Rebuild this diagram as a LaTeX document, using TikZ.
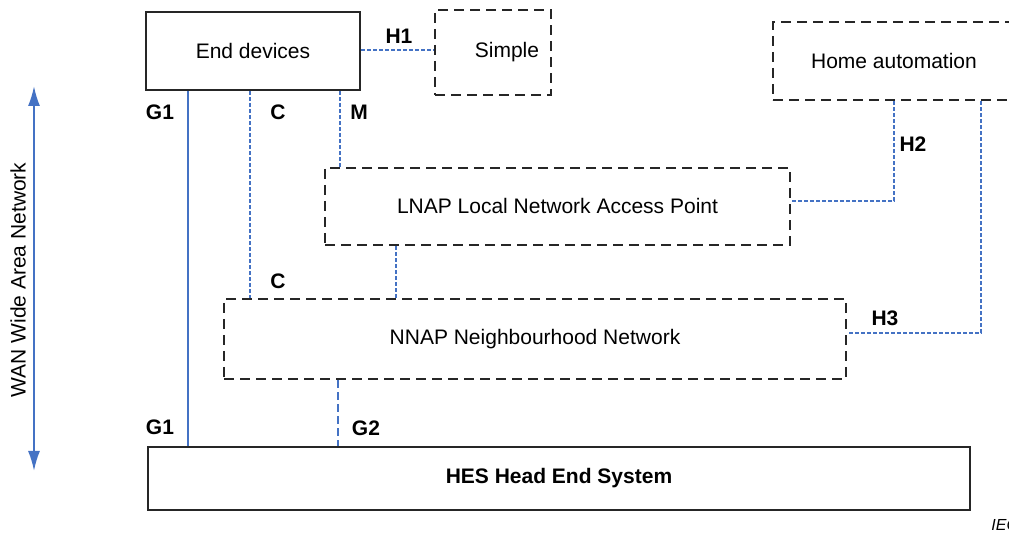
\documentclass[tikz,border=0pt]{standalone}
\usepackage{fontspec}
\setmainfont{Liberation Sans}
\usetikzlibrary{arrows.meta}

\definecolor{wanblue}{RGB}{68,114,196}

\begin{document}
\begin{tikzpicture}[x=0.5pt,y=-0.5pt,
    font=\fontsize{10.5}{12}\selectfont,
    solidbox/.style={draw=black!85,line width=1.4pt,inner sep=0pt},
    dashbox/.style={draw=black!85,line width=1.4pt,dash pattern=on 5pt off 3pt,inner sep=0pt},
    tag/.style={font=\fontsize{10.5}{12}\selectfont\bfseries},
    link/.style={draw=wanblue,line width=0.6pt,dash pattern=on 2pt off 1pt},
    gateway/.style={draw=wanblue,line width=1pt}]
  \useasboundingbox (0,0) rectangle (1009,533);

  % boxes
  \node[solidbox,minimum width=107pt,minimum height=39pt] (ends) at (253,51) {End devices};
  \node[dashbox,minimum width=58pt,minimum height=42.5pt] (simple) at (493,52.5) {\hspace*{14pt}Simple};
  \node[dashbox,minimum width=121pt,minimum height=39pt] (home) at (894,61) {Home automation};
  \node[dashbox,minimum width=232.5pt,minimum height=38.5pt] (lnap) at (557.5,206.5) {LNAP Local Network Access Point};
  \node[dashbox,minimum width=311pt,minimum height=40pt] (nnap) at (535,339) {NNAP Neighbourhood Network};
  \node[solidbox,minimum width=411pt,minimum height=31.5pt,font=\fontsize{10.5}{12}\selectfont\bfseries] (hes) at (559,478.5) {HES Head End System};

  % WAN
  \coordinate (wantop) at (34,86);
  \coordinate (wanbot) at (34,471);
  \draw[gateway,{Latex[length=10pt,width=6pt]}-{Latex[length=10pt,width=6pt]}] (wantop) -- (wanbot);
  \node[rotate=90] (wan) at (18,280) {WAN Wide Area Network};

  % connectors
  \draw[gateway] (ends.south -| 188,0) -- (hes.north -| 188,0);
  \draw[link] (ends.south -| 250,0) -- (nnap.north -| 250,0);
  \draw[link] (ends.south -| 340,0) -- (lnap.north -| 340,0);
  \draw[link] (ends.east |- 0,50) -- (simple.west |- 0,50);
  \draw[link] (lnap.south -| 396,0) -- (nnap.north -| 396,0);
  \draw[link] (home.south -| 894,0) |- (lnap.east |- 0,201);
  \draw[link] (home.south -| 981,0) |- (nnap.east |- 0,333);
  \draw[gateway,dash pattern=on 4pt off 2pt] (nnap.south -| 338,0) -- (hes.north -| 338,0);

  % labels
  \node[tag] (h1) at (399,36) {H1};
  \node[tag] (g1a) at (160,112) {G1};
  \node[tag] (c1) at (278,112) {C};
  \node[tag] (m) at (359,112) {M};
  \node[tag] (h2) at (913,144) {H2};
  \node[tag] (c2) at (278,281) {C};
  \node[tag] (h3) at (885,318) {H3};
  \node[tag] (g1b) at (160,427) {G1};
  \node[tag] (g2) at (366,428) {G2};
  \node[anchor=west,font=\fontsize{8}{9}\selectfont\itshape,inner sep=0pt] (iec) at (991,525) {IEC};
\end{tikzpicture}
\end{document}
